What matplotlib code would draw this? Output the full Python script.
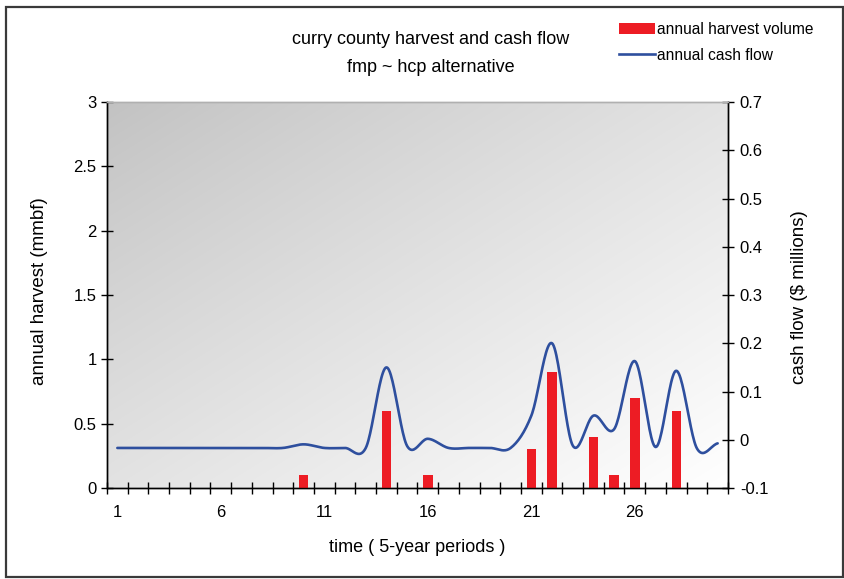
import numpy as np
import matplotlib
matplotlib.use("Agg")
import matplotlib.pyplot as plt
from matplotlib.patches import Rectangle, Patch
from matplotlib.lines import Line2D

plt.rcParams['font.family'] = ['Liberation Sans', 'DejaVu Sans']

# ---- data ----
periods = list(range(1, 31))
harvest_periods = [10, 14, 16, 21, 22, 24, 25, 26, 28]
harvest_volume = [0.1, 0.6, 0.1, 0.3, 0.9, 0.4, 0.1, 0.7, 0.6]   # mmbf
cash_flow = [-0.017, -0.017, -0.017, -0.017, -0.017, -0.017, -0.017, -0.017,
             -0.017, -0.0095, -0.017, -0.017, -0.017, 0.15, -0.013, 0.002,
             -0.017, -0.017, -0.017, -0.017, 0.05, 0.2, -0.012, 0.05,
             0.022, 0.163, -0.015, 0.143, -0.018, -0.0075]          # $ millions
xtick_labels = ['1', '6', '11', '16', '21', '26']
left_ticks = [0, 0.5, 1, 1.5, 2, 2.5, 3]
left_tick_labels = ['0', '0.5', '1', '1.5', '2', '2.5', '3']
right_ticks = [-0.1, 0, 0.1, 0.2, 0.3, 0.4, 0.5, 0.6, 0.7]
right_tick_labels = ['-0.1', '0', '0.1', '0.2', '0.3', '0.4', '0.5', '0.6', '0.7']

BAR_RED = '#ed1c24'
LINE_BLUE = '#2e4f9e'
TICK_FS = 12
LABEL_FS = 13.5


def smooth(x, y, n=24):
    """Catmull-Rom spline through the points (smoothed-line style)."""
    x = np.asarray(x, float)
    y = np.asarray(y, float)
    xp = np.concatenate([[2 * x[0] - x[1]], x, [2 * x[-1] - x[-2]]])
    yp = np.concatenate([[2 * y[0] - y[1]], y, [2 * y[-1] - y[-2]]])
    xs, ys = [], []
    t = np.linspace(0, 1, n, endpoint=False)
    for i in range(1, len(xp) - 2):
        p0, p1, p2, p3 = yp[i - 1], yp[i], yp[i + 1], yp[i + 2]
        m1 = (p2 - p0) / 2
        m2 = (p3 - p1) / 2
        h00 = 2 * t**3 - 3 * t**2 + 1
        h10 = t**3 - 2 * t**2 + t
        h01 = -2 * t**3 + 3 * t**2
        h11 = t**3 - t**2
        ys.append(h00 * p1 + h10 * m1 + h01 * p2 + h11 * m2)
        xs.append(xp[i] + t * (xp[i + 1] - xp[i]))
    xs.append([x[-1]])
    ys.append([y[-1]])
    return np.concatenate(xs), np.concatenate(ys)


fig = plt.figure(figsize=(8.45, 5.79), dpi=100)
W, H = 845, 579

# outer frame
fig.patches.append(Rectangle((6 / W, 2 / H), 837 / W, 570 / H,
                             transform=fig.transFigure, fill=False,
                             edgecolor='#3a3a3a', linewidth=1.6))

ax = fig.add_axes([107 / W, 1 - 488 / H, (728 - 107) / W, (488 - 102) / H])
ax2 = ax.twinx()

# diagonal gray-to-white gradient in the plot area
gx, gy = np.meshgrid(np.linspace(0, 1, 300), np.linspace(1, 0, 200))
tval = (gx + (1 - gy)) / 2
c0, c1 = 194 / 255, 1.0
grad = c0 + (c1 - c0) * tval ** 0.9
ax.imshow(np.dstack([grad, grad, grad]), extent=[0, 1, 0, 1],
          transform=ax.transAxes, aspect='auto', zorder=0, interpolation='bilinear')

# bars
ax.bar(harvest_periods, harvest_volume, width=0.45, color=BAR_RED, zorder=3)
ax.set_xlim(0.5, 30.5)
ax.set_ylim(0, 3)

# line
sx, sy = smooth(periods, cash_flow)
ax2.plot(sx, sy, color=LINE_BLUE, linewidth=1.9, solid_capstyle='round', zorder=4)
ax2.set_ylim(-0.1, 0.7)
ax2.set_zorder(ax.get_zorder() + 1)
ax2.patch.set_visible(False)

# ticks
ax.set_xticks(np.arange(0.5, 31, 1))
ax.set_xticklabels([])
ax.set_xticks([1, 6, 11, 16, 21, 26], minor=True)
ax.set_xticklabels(xtick_labels, minor=True)
ax.tick_params(axis='x', which='major', direction='inout', length=9, width=1, color='black')
ax.tick_params(axis='x', which='minor', length=0, pad=12, labelsize=TICK_FS)

ax.set_yticks(left_ticks)
ax.set_yticklabels(left_tick_labels)
ax.tick_params(axis='y', direction='inout', length=9, width=1, pad=3, labelsize=TICK_FS)
ax2.set_yticks(right_ticks)
ax2.set_yticklabels(right_tick_labels)
ax2.tick_params(axis='y', direction='inout', length=9, width=1, pad=4, labelsize=TICK_FS)

for a in (ax, ax2):
    a.spines['top'].set_color('#b0b0b0')
    a.spines['left'].set_color('black')
    a.spines['right'].set_color('black')
    a.spines['bottom'].set_color('black')
    for s in a.spines.values():
        s.set_linewidth(1.0)

# axis titles
fig.text(40 / W, 1 - 291 / H, 'annual harvest (mmbf)', rotation=90,
         ha='center', va='center', fontsize=LABEL_FS)
fig.text(800 / W, 1 - 297 / H, 'cash flow ($ millions)', rotation=90,
         ha='center', va='center', fontsize=LABEL_FS)
fig.text(417 / W, 1 - 548 / H, 'time ( 5-year periods )',
         ha='center', va='center', fontsize=13)

# chart title
fig.text(431 / W, 1 - 40 / H, 'curry county harvest and cash flow',
         ha='center', va='center', fontsize=13)
fig.text(431 / W, 1 - 67 / H, 'fmp ~ hcp alternative',
         ha='center', va='center', fontsize=13)

# legend
handles = [Patch(facecolor=BAR_RED, edgecolor='none'),
           Line2D([0], [0], color=LINE_BLUE, linewidth=1.9)]
fig.legend(handles, ['annual harvest volume', 'annual cash flow'],
           loc='upper left', bbox_to_anchor=(608 / W, 1 - 11 / H),
           frameon=False, fontsize=11.2, handlelength=2.3, handleheight=0.65,
           handletextpad=0.12, labelspacing=0.7, borderpad=0.2)

fig.savefig('out.png', dpi=100)
